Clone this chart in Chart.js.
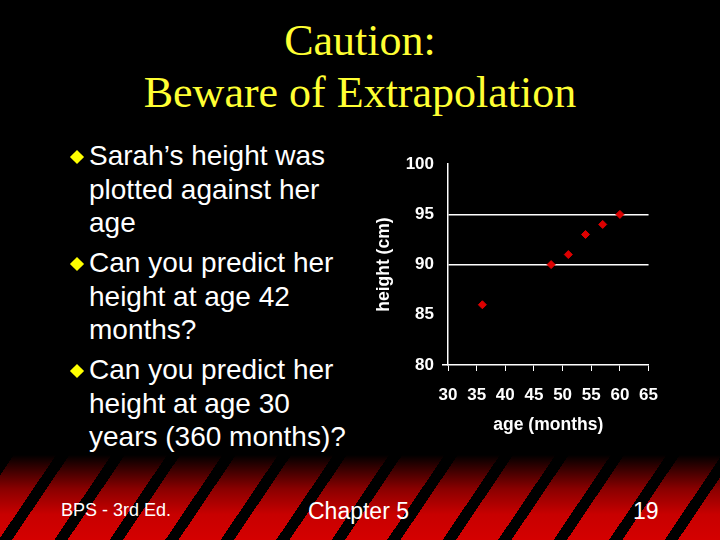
<!DOCTYPE html>
<html>
<head>
<meta charset="utf-8">
<script src="https://cdn.jsdelivr.net/npm/chart.js@4.4.1/dist/chart.umd.min.js"></script>
<style>
  html, body { margin: 0; padding: 0; }
  body { width: 720px; height: 540px; background: #000; position: relative; overflow: hidden; font-family: "Liberation Sans", Arial, sans-serif; }
  .title { position: absolute; left: 0; width: 720px; text-align: center; color: #ffff33; font-family: "Liberation Serif", "Times New Roman", serif; font-size: 44px; line-height: 52px; top: 15px; }
  .bullets { position: absolute; left: 89px; top: 139px; color: #fff; font-size: 28px; line-height: 33.5px; }
  .bullets p { margin: 0 0 6.5px 0; position: relative; }
  .bullets p::before { content: ""; position: absolute; left: -17px; top: 13px; width: 10px; height: 10px; background: #ffff00; transform: rotate(45deg); }
  .footer { position: absolute; left: 0; top: 455px; width: 720px; height: 85px;
    background:
      repeating-linear-gradient(-56deg, transparent 0px, transparent 35px, #000 35px, #000 46px),
      linear-gradient(to bottom, #000 0%, #8a0000 40%, #c80000 70%, #d40000 100%); }
  .foot { position: absolute; color: #fff; font-family: "Liberation Sans Narrow", "Liberation Sans", Arial, sans-serif; }
  #wrap { position: absolute; left: 370px; top: 146px; width: 302px; height: 294px; }
</style>
</head>
<body>
<div class="title">Caution:<br>Beware of Extrapolation</div>
<div class="bullets">
  <p>Sarah’s height was<br>plotted against her<br>age</p>
  <p>Can you predict her<br>height at age 42<br>months?</p>
  <p>Can you predict her<br>height at age 30<br>years (360 months)?</p>
</div>
<div class="footer"></div>
<div class="foot" style="left:61px; top:500px; font-size:18px;">BPS - 3rd Ed.</div>
<div class="foot" style="left:308px; top:498px; font-size:23px;">Chapter 5</div>
<div class="foot" style="left:633px; top:498px; font-size:23px;">19</div>
<div id="wrap"><canvas id="chart" width="302" height="294"></canvas></div>
<script>
const ageMonths = [36, 48, 51, 54, 57, 60];
const heightCm = [86, 90, 91, 93, 94, 95];
const xTicks = [30, 35, 40, 45, 50, 55, 60, 65];
const yTicks = [80, 85, 90, 95, 100];
const yGridLines = [90, 95];

const tickFont = { family: "Liberation Sans", size: 17, weight: "bold" };
const titleFont = { family: "Liberation Sans", size: 17.5, weight: "bold" };

new Chart(document.getElementById("chart"), {
  type: "scatter",
  data: {
    datasets: [{
      data: ageMonths.map((a, i) => ({ x: a, y: heightCm[i] })),
      pointStyle: "rectRot",
      pointRadius: 4,
      backgroundColor: "#dd0000",
      borderColor: "#dd0000",
    }],
  },
  options: {
    responsive: false,
    animation: false,
    layout: { padding: 0 },
    plugins: { legend: { display: false }, tooltip: { enabled: false } },
    scales: {
      x: {
        type: "linear",
        min: xTicks[0],
        max: xTicks[xTicks.length - 1],
        afterBuildTicks: (s) => { s.ticks = xTicks.map(v => ({ value: v })); },
        afterFit: (s) => { s.height = 75; },
        border: { color: "#fff", width: 1.5 },
        grid: { drawOnChartArea: false, drawTicks: true, tickLength: 6, tickColor: "#fff" },
        ticks: { color: "#fff", font: tickFont, padding: 14, maxRotation: 0 },
        title: { display: true, text: "age (months)", color: "#fff", font: titleFont },
      },
      y: {
        type: "linear",
        min: yTicks[0],
        max: yTicks[yTicks.length - 1],
        afterBuildTicks: (s) => { s.ticks = yTicks.map(v => ({ value: v })); },
        afterFit: (s) => { s.width = 78; },
        border: { color: "#fff", width: 1.5 },
        grid: {
          color: (c) => yGridLines.includes(c.tick.value) ? "#fff" : "rgba(0,0,0,0)",
          lineWidth: 1.5,
          tickLength: 6,
          tickColor: (c) => c.tick.value === yTicks[0] ? "#fff" : "rgba(0,0,0,0)",
        },
        ticks: { color: "#fff", font: tickFont, padding: 8 },
        title: { display: true, text: "height (cm)", color: "#fff", font: titleFont },
      },
    },
  },
});
</script>
</body>
</html>
